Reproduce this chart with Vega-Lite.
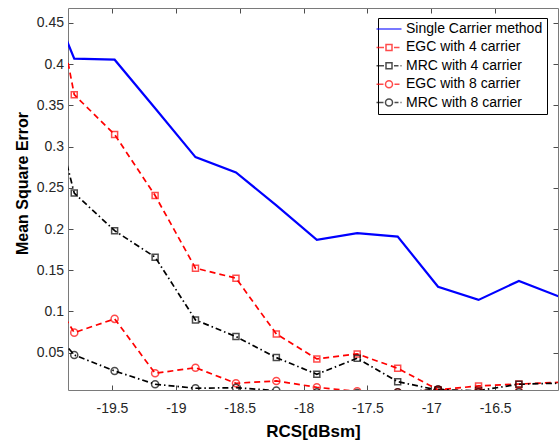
{
  "$schema": "https://vega.github.io/schema/vega-lite/v6.json",
  "autosize": {"type": "none"},
  "width": 490,
  "height": 382,
  "padding": {"left": 68, "top": 8, "right": 1, "bottom": 50},
  "background": "white",
  "config": {
    "view": {"stroke": null},
    "font": "Liberation Sans",
    "axis": {
      "grid": false,
      "domainColor": "#7a7a7a",
      "domainWidth": 1,
      "tickColor": "#4d4d4d",
      "tickSize": -5,
      "labelFont": "Liberation Sans",
      "labelFontSize": 14,
      "labelColor": "#262626",
      "titleFont": "Liberation Sans",
      "titleFontSize": 17,
      "titleFontWeight": "bold",
      "titleColor": "#000000"
    },
    "legend": {
      "orient": "none",
      "legendX": 310,
      "legendY": 10,
      "title": null,
      "strokeColor": "#000000",
      "fillColor": "#ffffff",
      "padding": 4,
      "cornerRadius": 0,
      "labelFont": "Liberation Sans",
      "labelFontSize": 14,
      "labelColor": "#000000",
      "labelLimit": 300,
      "symbolSize": 100,
      "symbolStrokeWidth": 1.5,
      "rowPadding": 4.4,
      "labelOffset": 10
    }
  },
  "data": {
    "values": [
      {"series": "Single Carrier method", "x": -20.112, "mse": 0.526},
      {"series": "Single Carrier method", "x": -19.795, "mse": 0.4067},
      {"series": "Single Carrier method", "x": -19.479, "mse": 0.4055},
      {"series": "Single Carrier method", "x": -19.162, "mse": 0.3466},
      {"series": "Single Carrier method", "x": -18.846, "mse": 0.2873},
      {"series": "Single Carrier method", "x": -18.529, "mse": 0.2686},
      {"series": "Single Carrier method", "x": -18.213, "mse": 0.2288},
      {"series": "Single Carrier method", "x": -17.896, "mse": 0.1869},
      {"series": "Single Carrier method", "x": -17.58, "mse": 0.195},
      {"series": "Single Carrier method", "x": -17.263, "mse": 0.1909},
      {"series": "Single Carrier method", "x": -16.947, "mse": 0.130},
      {"series": "Single Carrier method", "x": -16.63, "mse": 0.114},
      {"series": "Single Carrier method", "x": -16.314, "mse": 0.137},
      {"series": "Single Carrier method", "x": -15.997, "mse": 0.118},

      {"series": "EGC with 4 carrier", "x": -20.112, "mse": 0.616},
      {"series": "EGC with 4 carrier", "x": -19.795, "mse": 0.363},
      {"series": "EGC with 4 carrier", "x": -19.479, "mse": 0.3147},
      {"series": "EGC with 4 carrier", "x": -19.162, "mse": 0.2407},
      {"series": "EGC with 4 carrier", "x": -18.846, "mse": 0.1525},
      {"series": "EGC with 4 carrier", "x": -18.529, "mse": 0.1404},
      {"series": "EGC with 4 carrier", "x": -18.213, "mse": 0.0727},
      {"series": "EGC with 4 carrier", "x": -17.896, "mse": 0.0424},
      {"series": "EGC with 4 carrier", "x": -17.58, "mse": 0.0485},
      {"series": "EGC with 4 carrier", "x": -17.263, "mse": 0.031},
      {"series": "EGC with 4 carrier", "x": -16.947, "mse": 0.005},
      {"series": "EGC with 4 carrier", "x": -16.63, "mse": 0.0096},
      {"series": "EGC with 4 carrier", "x": -16.314, "mse": 0.012},
      {"series": "EGC with 4 carrier", "x": -15.997, "mse": 0.014},

      {"series": "MRC with 4 carrier", "x": -20.112, "mse": 0.437},
      {"series": "MRC with 4 carrier", "x": -19.795, "mse": 0.2436},
      {"series": "MRC with 4 carrier", "x": -19.479, "mse": 0.198},
      {"series": "MRC with 4 carrier", "x": -19.162, "mse": 0.1659},
      {"series": "MRC with 4 carrier", "x": -18.846, "mse": 0.0897},
      {"series": "MRC with 4 carrier", "x": -18.529, "mse": 0.0695},
      {"series": "MRC with 4 carrier", "x": -18.213, "mse": 0.044},
      {"series": "MRC with 4 carrier", "x": -17.896, "mse": 0.0238},
      {"series": "MRC with 4 carrier", "x": -17.58, "mse": 0.0432},
      {"series": "MRC with 4 carrier", "x": -17.263, "mse": 0.0148},
      {"series": "MRC with 4 carrier", "x": -16.947, "mse": 0.0045},
      {"series": "MRC with 4 carrier", "x": -16.63, "mse": 0.004},
      {"series": "MRC with 4 carrier", "x": -16.314, "mse": 0.0117},
      {"series": "MRC with 4 carrier", "x": -15.997, "mse": 0.013},

      {"series": "EGC with 8 carrier", "x": -20.112, "mse": 0.154},
      {"series": "EGC with 8 carrier", "x": -19.795, "mse": 0.0743},
      {"series": "EGC with 8 carrier", "x": -19.479, "mse": 0.091},
      {"series": "EGC with 8 carrier", "x": -19.162, "mse": 0.025},
      {"series": "EGC with 8 carrier", "x": -18.846, "mse": 0.0318},
      {"series": "EGC with 8 carrier", "x": -18.529, "mse": 0.0129},
      {"series": "EGC with 8 carrier", "x": -18.213, "mse": 0.0157},
      {"series": "EGC with 8 carrier", "x": -17.896, "mse": 0.008},
      {"series": "EGC with 8 carrier", "x": -17.58, "mse": 0.003},
      {"series": "EGC with 8 carrier", "x": -17.263, "mse": 0.002},
      {"series": "EGC with 8 carrier", "x": -16.947, "mse": 0.005},
      {"series": "EGC with 8 carrier", "x": -16.63, "mse": 0.003},
      {"series": "EGC with 8 carrier", "x": -16.314, "mse": 0.003},
      {"series": "EGC with 8 carrier", "x": -15.997, "mse": 0.003},

      {"series": "MRC with 8 carrier", "x": -20.112, "mse": 0.105},
      {"series": "MRC with 8 carrier", "x": -19.795, "mse": 0.0472},
      {"series": "MRC with 8 carrier", "x": -19.479, "mse": 0.0278},
      {"series": "MRC with 8 carrier", "x": -19.162, "mse": 0.0117},
      {"series": "MRC with 8 carrier", "x": -18.846, "mse": 0.0068},
      {"series": "MRC with 8 carrier", "x": -18.529, "mse": 0.0075},
      {"series": "MRC with 8 carrier", "x": -18.213, "mse": 0.004},
      {"series": "MRC with 8 carrier", "x": -17.896, "mse": 0.002},
      {"series": "MRC with 8 carrier", "x": -17.58, "mse": 0.001},
      {"series": "MRC with 8 carrier", "x": -17.263, "mse": 0.002},
      {"series": "MRC with 8 carrier", "x": -16.947, "mse": 0.0056},
      {"series": "MRC with 8 carrier", "x": -16.63, "mse": 0.002},
      {"series": "MRC with 8 carrier", "x": -16.314, "mse": 0.002},
      {"series": "MRC with 8 carrier", "x": -15.997, "mse": 0.002}
    ]
  },
  "resolve": {"axis": {"x": "independent", "y": "independent"}},
  "layer": [
    {
      "transform": [{"filter": {"field": "x", "lt": -20}}],
      "mark": {"type": "point", "filled": false, "strokeWidth": 1.5, "clip": true},
      "encoding": {
        "x": {
          "field": "x", "type": "quantitative",
          "scale": {"domain": [-19.844, -16.008], "nice": false, "zero": false},
          "axis": {"orient": "top", "values": [-19.5, -19, -18.5, -18, -17.5, -17, -16.5], "labels": false, "title": null}
        },
        "y": {
          "field": "mse", "type": "quantitative",
          "scale": {"domain": [0.0047, 0.4682], "nice": false, "zero": false},
          "axis": {"orient": "right", "values": [0.05, 0.1, 0.15, 0.2, 0.25, 0.3, 0.35, 0.4, 0.45], "labels": false, "title": null}
        },
        "color": {
          "field": "series", "type": "nominal",
          "scale": {
            "domain": ["Single Carrier method", "EGC with 4 carrier", "MRC with 4 carrier", "EGC with 8 carrier", "MRC with 8 carrier"],
            "range": ["#0000ff", "#ff0000", "#000000", "#ff0000", "#000000"]
          }
        },
        "shape": {
          "field": "series", "type": "nominal",
          "scale": {
            "domain": ["Single Carrier method", "EGC with 4 carrier", "MRC with 4 carrier", "EGC with 8 carrier", "MRC with 8 carrier"],
            "range": [
              "M-2.5,0H2.5",
              "M-2.5,0H-1M-0.6,-0.6H0.6V0.6H-0.6ZM1,0H2.1",
              "M-2.5,0H-1M-0.6,-0.6H0.6V0.6H-0.6ZM1,0H1.9M2.3,0H2.5",
              "M-2.5,0H-1.1M0.7,0A0.7,0.7 0 1,1 -0.7,0A0.7,0.7 0 1,1 0.7,0ZM1.1,0H2.1",
              "M-2.5,0H-1.1M0.7,0A0.7,0.7 0 1,1 -0.7,0A0.7,0.7 0 1,1 0.7,0ZM1.1,0H1.9M2.3,0H2.5"
            ]
          }
        }
      }
    },
    {
      "transform": [{"filter": {"field": "series", "equal": "Single Carrier method"}}],
      "mark": {"type": "line", "clip": true, "strokeWidth": 2.2, "color": "#0000ff"},
      "encoding": {
        "x": {
          "field": "x", "type": "quantitative",
          "axis": {
            "orient": "bottom",
            "values": [-19.5, -19, -18.5, -18, -17.5, -17, -16.5],
            "format": ".1~f",
            "labelExpr": "replace(datum.label, '\u2212', '-')",
            "labelPadding": 16,
            "title": "RCS[dBsm]",
            "titleY": 41,
            "titleBaseline": "middle"
          }
        },
        "y": {
          "field": "mse", "type": "quantitative",
          "axis": {
            "orient": "left",
            "values": [0.05, 0.1, 0.15, 0.2, 0.25, 0.3, 0.35, 0.4, 0.45],
            "format": ".2~f",
            "labelPadding": 9.5,
            "title": "Mean Square Error",
            "titleFontSize": 16,
            "titleX": -45.5,
            "titleY": 175,
            "titleAngle": 270,
            "titleAlign": "center",
            "titleBaseline": "middle"
          }
        }
      }
    },
    {
      "transform": [{"filter": {"field": "series", "oneOf": ["EGC with 4 carrier", "EGC with 8 carrier"]}}],
      "mark": {"type": "line", "clip": true, "strokeWidth": 1.7, "color": "#ff0000", "strokeDash": [6, 4]},
      "encoding": {
        "x": {"field": "x", "type": "quantitative", "axis": null},
        "y": {"field": "mse", "type": "quantitative", "axis": null},
        "detail": {"field": "series", "type": "nominal"}
      }
    },
    {
      "transform": [{"filter": {"field": "series", "oneOf": ["MRC with 4 carrier", "MRC with 8 carrier"]}}],
      "mark": {"type": "line", "clip": true, "strokeWidth": 1.7, "color": "#000000", "strokeDash": [6, 3, 1.5, 3]},
      "encoding": {
        "x": {"field": "x", "type": "quantitative", "axis": null},
        "y": {"field": "mse", "type": "quantitative", "axis": null},
        "detail": {"field": "series", "type": "nominal"}
      }
    },
    {
      "transform": [
        {"filter": {"field": "series", "equal": "EGC with 4 carrier"}},
        {"filter": {"field": "x", "range": [-19.84, -16.02]}}
      ],
      "mark": {"type": "point", "shape": "square", "filled": false, "size": 36, "strokeWidth": 1.5, "clip": true, "color": "#ff0000"},
      "encoding": {
        "x": {"field": "x", "type": "quantitative", "axis": null},
        "y": {"field": "mse", "type": "quantitative", "axis": null}
      }
    },
    {
      "transform": [
        {"filter": {"field": "series", "equal": "MRC with 4 carrier"}},
        {"filter": {"field": "x", "range": [-19.84, -16.02]}}
      ],
      "mark": {"type": "point", "shape": "square", "filled": false, "size": 36, "strokeWidth": 1.5, "clip": true, "color": "#000000"},
      "encoding": {
        "x": {"field": "x", "type": "quantitative", "axis": null},
        "y": {"field": "mse", "type": "quantitative", "axis": null}
      }
    },
    {
      "transform": [
        {"filter": {"field": "series", "equal": "EGC with 8 carrier"}},
        {"filter": {"field": "x", "range": [-19.84, -16.02]}}
      ],
      "mark": {"type": "point", "shape": "circle", "filled": false, "size": 50, "strokeWidth": 1.5, "clip": true, "color": "#ff0000"},
      "encoding": {
        "x": {"field": "x", "type": "quantitative", "axis": null},
        "y": {"field": "mse", "type": "quantitative", "axis": null}
      }
    },
    {
      "transform": [
        {"filter": {"field": "series", "equal": "MRC with 8 carrier"}},
        {"filter": {"field": "x", "range": [-19.84, -16.02]}}
      ],
      "mark": {"type": "point", "shape": "circle", "filled": false, "size": 50, "strokeWidth": 1.5, "clip": true, "color": "#000000"},
      "encoding": {
        "x": {"field": "x", "type": "quantitative", "axis": null},
        "y": {"field": "mse", "type": "quantitative", "axis": null}
      }
    }
  ]
}
